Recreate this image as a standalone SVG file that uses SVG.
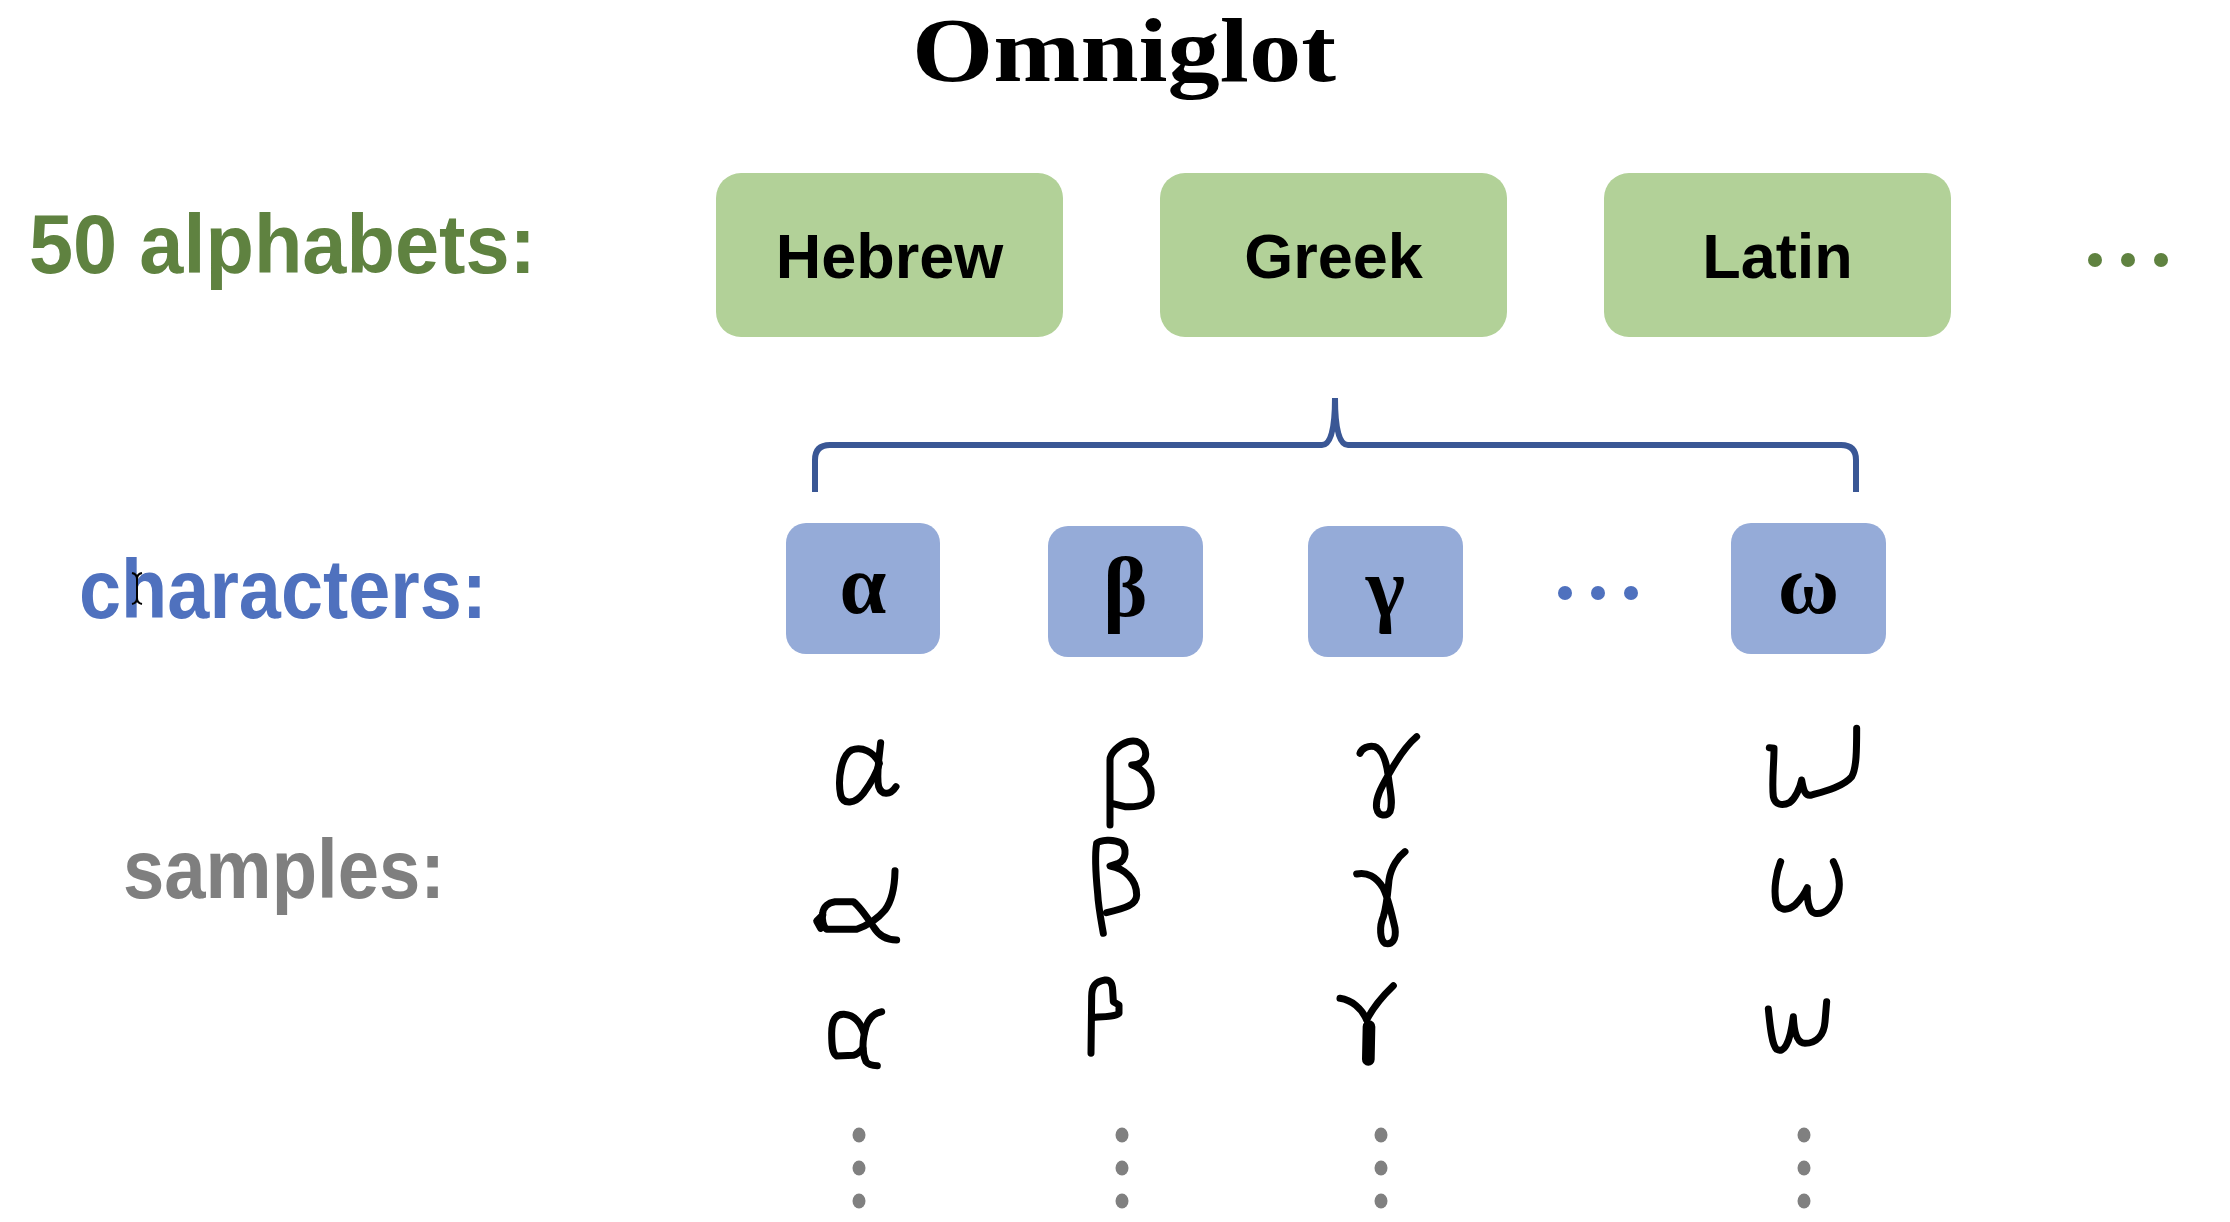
<svg xmlns="http://www.w3.org/2000/svg" width="2230" height="1222" viewBox="0 0 2230 1222">
<style>
.title{font-family:"Liberation Serif","Times New Roman",serif;font-weight:bold;font-size:90px;fill:#000}
.lbl{font-family:"Liberation Sans",Arial,sans-serif;font-weight:bold;font-size:84px}
.alpha{fill:#B2D198}
.alphaT{font-family:"Liberation Sans",Arial,sans-serif;font-weight:bold;font-size:63px;fill:#000;text-anchor:middle}
.char{fill:#95ABD8}
.charT{font-family:"Liberation Serif","Times New Roman",serif;font-weight:bold;font-size:84px;fill:#000;text-anchor:middle}
.hw{fill:none;stroke:#000;stroke-width:21;stroke-linecap:round;stroke-linejoin:round}
.gdot{fill:#5F8240}
.bdot{fill:#4F71BE}
.sdot{fill:#808080}
</style>
<rect width="2230" height="1222" fill="#fff"/>
<text class="title" x="1124" y="81" text-anchor="middle" textLength="424" lengthAdjust="spacingAndGlyphs">Omniglot</text>

<g id="label-alphabets"><text class="lbl" x="29" y="273" fill="#5F8240" textLength="507" lengthAdjust="spacingAndGlyphs">50 alphabets:</text></g>
<g id="label-characters"><text class="lbl" x="79" y="618" fill="#4F71BE" textLength="408" lengthAdjust="spacingAndGlyphs">characters:</text>
<path d="M132,573 Q137,574 137,579 L137,598 Q137,603 132,604 M142,573 Q137,574 137,579 M142,604 Q137,603 137,598" fill="none" stroke="#000" stroke-width="2"/></g>
<g id="label-samples"><text class="lbl" x="123" y="898" fill="#7F7F7F" textLength="322" lengthAdjust="spacingAndGlyphs">samples:</text></g>

<g id="alphabet-hebrew"><rect class="alpha" x="716" y="173" width="347" height="164" rx="25"/><text class="alphaT" x="889.5" y="278">Hebrew</text></g>
<g id="alphabet-greek"><rect class="alpha" x="1160" y="173" width="347" height="164" rx="25"/><text class="alphaT" x="1333.5" y="278">Greek</text></g>
<g id="alphabet-latin"><rect class="alpha" x="1604" y="173" width="347" height="164" rx="25"/><text class="alphaT" x="1777.5" y="278">Latin</text></g>
<g id="alphabet-more"><circle class="gdot" cx="2095" cy="260" r="7"/><circle class="gdot" cx="2128" cy="260" r="7"/><circle class="gdot" cx="2161" cy="260" r="7"/></g>

<g id="connectors">
<path d="M815,492 L815,460 Q815,445 830,445 L1322,445 Q1335,445 1335,398 Q1335,445 1348,445 L1841,445 Q1856,445 1856,460 L1856,492" fill="none" stroke="#3A5795" stroke-width="6"/>
</g>

<g id="char-alpha"><rect class="char" x="786" y="523" width="154" height="131" rx="20"/><text class="charT" x="863" y="613">α</text></g>
<g id="char-beta"><rect class="char" x="1048" y="526" width="155" height="131" rx="20"/><text class="charT" x="1125.5" y="616">β</text></g>
<g id="char-gamma"><rect class="char" x="1308" y="526" width="155" height="131" rx="20"/><text class="charT" x="1385.5" y="616">γ</text></g>
<g id="char-more"><circle class="bdot" cx="1565" cy="593" r="7"/><circle class="bdot" cx="1598" cy="593" r="7"/><circle class="bdot" cx="1631" cy="593" r="7"/></g>
<g id="char-omega"><rect class="char" x="1731" y="523" width="155" height="131" rx="20"/><text class="charT" x="1808.5" y="613">ω</text></g>

<g id="samples-alpha" transform="translate(800,720) scale(0.33333)">
<path class="hw" d="M238,130 C222,95 185,78 155,90 C125,105 112,175 122,225 C130,255 165,252 190,220 C212,190 230,160 238,130"/>
<path class="hw" d="M242,68 C238,110 228,165 236,200 C244,225 270,228 288,200"/>
<path class="hw" d="M285,452 C284,500 278,540 255,570 C230,600 205,615 170,628 L80,628 C70,620 65,600 68,580 C70,560 85,548 105,545 L160,545 C180,560 200,590 220,620 C235,645 255,660 290,660"/>
<path class="hw" d="M68,585 L50,603 L62,625"/>
<path class="hw" d="M245,875 C225,878 208,892 198,920 C188,955 185,995 198,1025 C206,1035 220,1037 232,1037"/>
<path class="hw" d="M192,940 C182,908 162,885 132,883 C108,882 95,898 95,940 C95,978 97,1000 110,1008 L160,1006 C172,1003 180,995 188,985"/>
</g>
<g id="samples-beta" transform="translate(1075,720) scale(0.33333)">
<path class="hw" d="M105,315 L105,120 C105,100 130,75 160,65 C185,58 210,70 212,100 C214,125 190,135 170,135 C205,145 232,180 228,225 C225,255 190,262 150,260 L110,250"/>
<path class="hw" d="M85,640 C78,600 70,560 68,520 C62,460 60,400 65,370 C75,360 115,355 140,370 C155,385 155,420 130,430 L105,438 C150,445 185,480 185,525 C185,555 150,565 95,578"/>
<path class="hw" d="M48,1000 L50,830 C50,800 60,785 90,780 C105,778 112,790 113,810 L115,845 L132,855 L132,880 C120,890 90,890 55,892"/>
</g>
<g id="samples-gamma" transform="translate(1325,720) scale(0.33333)">
<path class="hw" d="M105,100 C110,85 130,75 150,80 C175,90 185,130 190,170 C195,210 205,250 195,275 C185,290 160,290 155,265 C150,235 170,200 190,165 C215,120 245,75 275,50"/>
<path class="hw" d="M95,462 C125,455 155,470 175,505 C190,535 200,580 210,625 C215,660 200,675 180,670 C165,660 162,620 175,590 C185,560 188,520 192,480 C198,440 220,410 240,395"/>
<path class="hw" d="M45,835 C80,840 110,865 125,900 C135,880 160,840 205,797"/>
<path class="hw" style="stroke-width:38" d="M132,920 L130,1018"/>
</g>
<g id="samples-omega" transform="translate(1750,715) scale(0.33333)">
<path class="hw" d="M58,98 L72,100 C72,150 65,200 70,245 C75,268 95,275 120,262 C135,250 150,220 155,195 C160,225 165,245 185,240 C220,230 280,215 305,185 C320,160 320,100 320,40"/>
<path class="hw" d="M92,440 C80,470 70,520 78,560 C85,585 110,590 135,570 C150,555 165,535 172,518 C170,550 175,590 195,595 C225,600 255,570 265,535 C272,505 265,470 250,440"/>
<path class="hw" d="M55,882 C60,930 65,990 80,1003 C100,1015 120,990 130,905 C132,950 140,985 165,985 C200,985 222,960 225,920 L230,860"/>
</g>
<g id="samples-more">
<ellipse class="sdot" cx="859" cy="1135" rx="6.5" ry="7.5"/><ellipse class="sdot" cx="859" cy="1168" rx="6.5" ry="7.5"/><ellipse class="sdot" cx="859" cy="1201" rx="6.5" ry="7.5"/>
<ellipse class="sdot" cx="1122" cy="1135" rx="6.5" ry="7.5"/><ellipse class="sdot" cx="1122" cy="1168" rx="6.5" ry="7.5"/><ellipse class="sdot" cx="1122" cy="1201" rx="6.5" ry="7.5"/>
<ellipse class="sdot" cx="1381" cy="1135" rx="6.5" ry="7.5"/><ellipse class="sdot" cx="1381" cy="1168" rx="6.5" ry="7.5"/><ellipse class="sdot" cx="1381" cy="1201" rx="6.5" ry="7.5"/>
<ellipse class="sdot" cx="1804" cy="1135" rx="6.5" ry="7.5"/><ellipse class="sdot" cx="1804" cy="1168" rx="6.5" ry="7.5"/><ellipse class="sdot" cx="1804" cy="1201" rx="6.5" ry="7.5"/>
</g>
</svg>
